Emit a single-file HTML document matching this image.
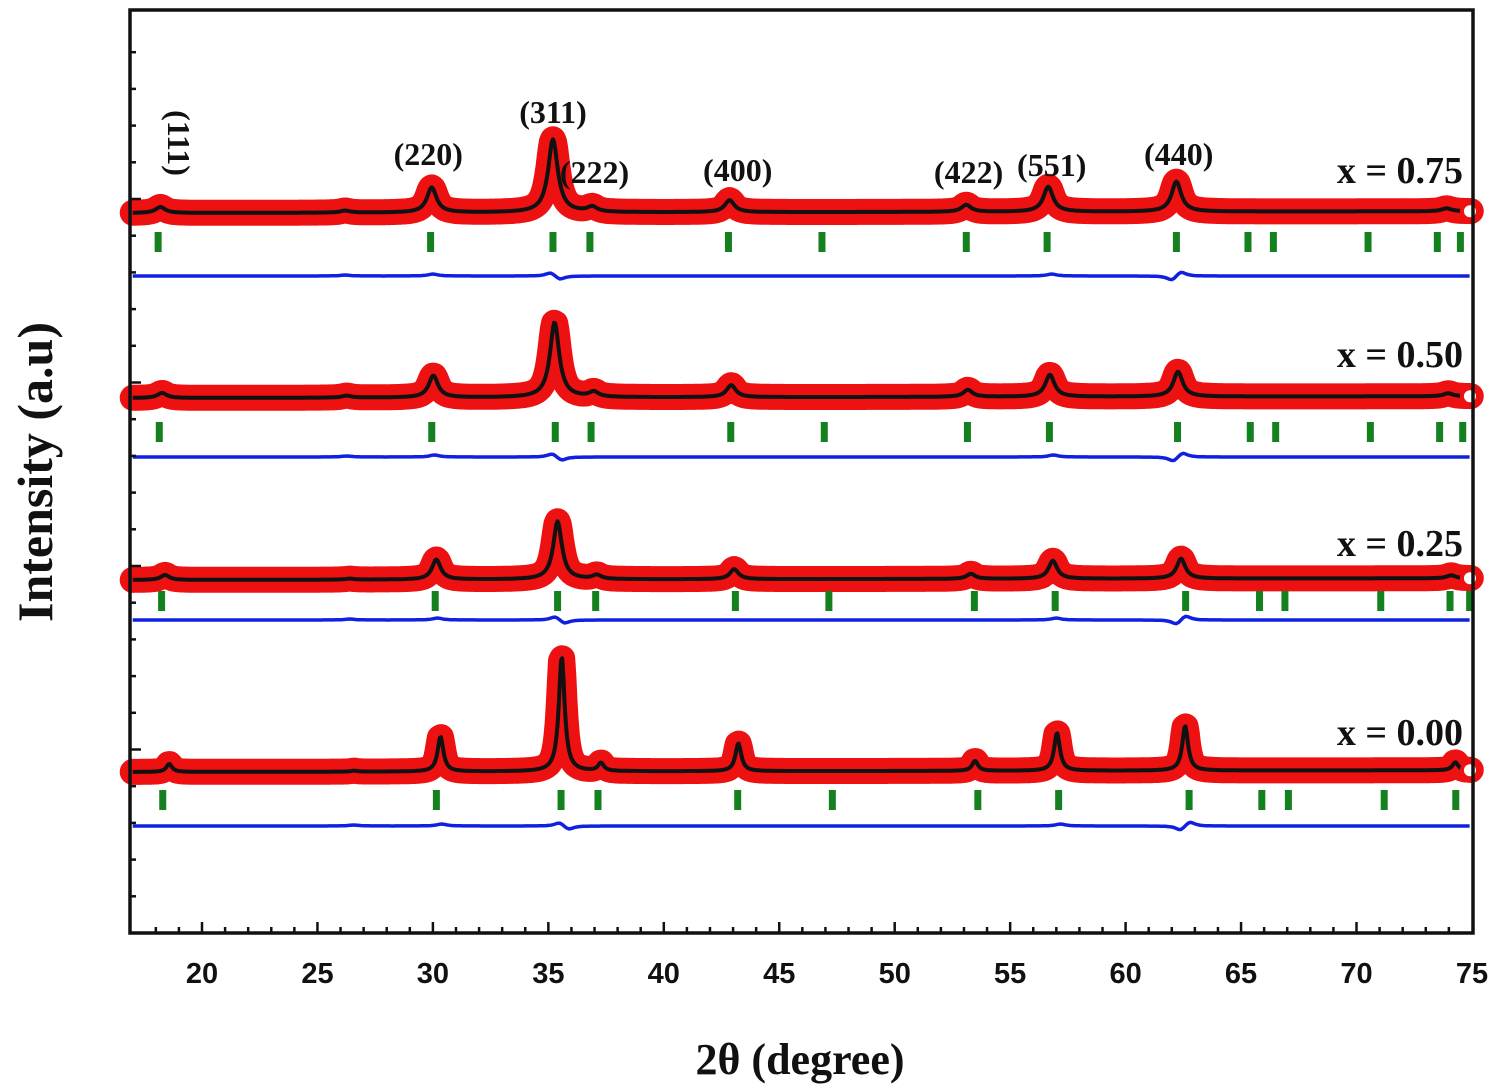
<!DOCTYPE html>
<html><head><meta charset="utf-8"><style>
html,body{margin:0;padding:0;background:#fff;}
svg{display:block;}
text{font-family:"Liberation Serif",serif;font-weight:bold;fill:#111;}
.tl{font-family:"Liberation Sans",sans-serif;font-size:29px;}
</style></head><body>
<svg id="chart" width="1500" height="1092" viewBox="0 0 1500 1092">
<g id="series"></g>
<g id="frame"></g>
</svg>
<script>
// ---- data ----
const xTicks = [20,25,30,35,40,45,50,55,60,65,70,75];
const compositions = ["x = 0.75","x = 0.50","x = 0.25","x = 0.00"];
const offsets = [213,398,580,772]; // baseline pixel per pattern (stack offset)
const peakPos = [18.2,26.2,29.95,35.2,36.9,42.85,53.1,56.65,62.2,73.9];
const peakShift = [0,0.07,0.2,0.38];
const heights075 = [6,2,25,73,5,12,7,25,30,3];
const heights050 = [5,2,22,75,5,12,7,22,25,3];
const heights025 = [5,1,20,58,4,10,5,18,20,3];
const heights000 = [8,1,35,115,8,28,10,38,45,8];
const widths = [0.5,0.48,0.45,0.3];
const refl075 = [18.1,29.9,35.2,36.8,42.8,46.85,53.1,56.6,62.2,65.3,66.4,70.5,73.5,74.5];
const refl050 = [18.15,29.95,35.3,36.85,42.9,46.95,53.15,56.7,62.25,65.4,66.5,70.6,73.6,74.6];
const refl025 = [18.25,30.1,35.4,37.05,43.1,47.15,53.45,56.95,62.6,65.8,66.9,71.05,74.05,74.9];
const refl000 = [18.3,30.15,35.55,37.15,43.2,47.3,53.6,57.1,62.75,65.9,67.05,71.2,74.3];
const hkl = ["(220)","(311)","(222)","(400)","(422)","(551)","(440)"];
const hklPos = [29.8,35.2,37.0,43.2,53.2,56.8,62.3];
const hklY = [165,123,183,181,183,176,165];
const diffBumps = [[26.2,1],[30.0,2],[35.1,4],[35.5,-4],[56.8,2],[62.0,-5],[62.4,5]];

const H = [heights075,heights050,heights025,heights000];
const R = [refl075,refl050,refl025,refl000];
const blueY = [276,457,620,826];
const labelY = [183,367,556,745];
const x0=202, ppd=23.09;
const X = v => x0 + (v-20)*ppd;
const NS="http://www.w3.org/2000/svg";
function mk(tag, attrs, parent){const e=document.createElementNS(NS,tag);for(const k in attrs)e.setAttribute(k,attrs[k]);parent.appendChild(e);return e;}
const sg=document.getElementById('series'), fg=document.getElementById('frame');

for(let s=0;s<4;s++){
  const g=mk('g',{},sg);
  
  
  let pts=[];
  for(let v=17.0; v<=74.95; v+=0.05){
    let y=offsets[s]+ (v-17)*(-0.03);
    for(let i=0;i<peakPos.length;i++){
      const d=(v-peakPos[i]-peakShift[s])/widths[s];
      y-=H[s][i]/(1+d*d*4);
    }
    pts.push(X(v).toFixed(1)+','+y.toFixed(1));
  }
  const red=mk('polyline',{points:pts.join(' '),fill:'none',stroke:'#ee1111','stroke-width':26,'stroke-linejoin':'round','stroke-linecap':'round'},g);
  
  
  const blk=mk('polyline',{points:pts.join(' '),fill:'none',stroke:'#111','stroke-width':4,'stroke-linejoin':'round'},g);
  
  
  const c=mk('circle',{cx:X(75)-2,cy:offsets[s]-1.7,r:8,fill:'#fff',stroke:'#ee1111','stroke-width':4},g);
  
  
  const tickTop=[232,422,591,790][s];
  R[s].forEach(v=>{
    const r=mk('rect',{x:X(v)-3.5,y:tickTop,width:7,height:20,fill:'#14801e'},g);
    
    
  });
  let dp=[];
  for(let v=17.0; v<=75; v+=0.1){
    let y=blueY[s];
    diffBumps.forEach(b=>{const d=(v-b[0]-peakShift[s])/0.25;y-=b[1]/(1+d*d);});
    dp.push(X(v).toFixed(1)+','+y.toFixed(1));
  }
  const bl=mk('polyline',{points:dp.join(' '),fill:'none',stroke:'#1020e0','stroke-width':3.5},g);
  
  
  const t=mk('text',{x:1463,y:labelY[s],'text-anchor':'end','font-size':38},g);
  t.textContent=compositions[s];
  
  
}
hkl.forEach((h,i)=>{
  const t=mk('text',{x:X(hklPos[i]),y:hklY[i],'text-anchor':'middle','font-size':32},sg);
  t.textContent=h;
  
  
});
const t111=mk('text',{x:0,y:0,'text-anchor':'middle','font-size':32,transform:'translate(168,143) rotate(90)'},sg);
t111.textContent="(111)";



const L=130,T=10,Rr=1473,B=933;
const fr=mk('rect',{x:L,y:T,width:Rr-L,height:B-T,fill:'none',stroke:'#111','stroke-width':3.5},fg);


for(let v=18;v<=74;v++){
  const major=v%5===0;
  const l=mk('line',{x1:X(v),x2:X(v),y1:B,y2:B-(major?11:6),stroke:'#111','stroke-width':2.5},fg);
  
  
}
xTicks.forEach(v=>{
  const t=mk('text',{x:X(v),y:983,'text-anchor':'middle',class:'tl'},fg);
  t.textContent=v;
  
  
});
for(let k=1;k<=24;k++){
  const y=B-k*36.7; if(y<T+5)break;
  const l=mk('line',{x1:L,x2:L+(k%5===0?11:6),y1:y,y2:y,stroke:'#111','stroke-width':2.5},fg);
  
  
}
const xt=mk('text',{x:800,y:1074,'text-anchor':'middle','font-size':44},fg);
xt.textContent="2θ (degree)";


const yt=mk('text',{x:0,y:0,'text-anchor':'middle','font-size':50,transform:'translate(52,472) rotate(-90)'},fg);
yt.textContent="Intensity (a.u)";


</script>
</body></html>
